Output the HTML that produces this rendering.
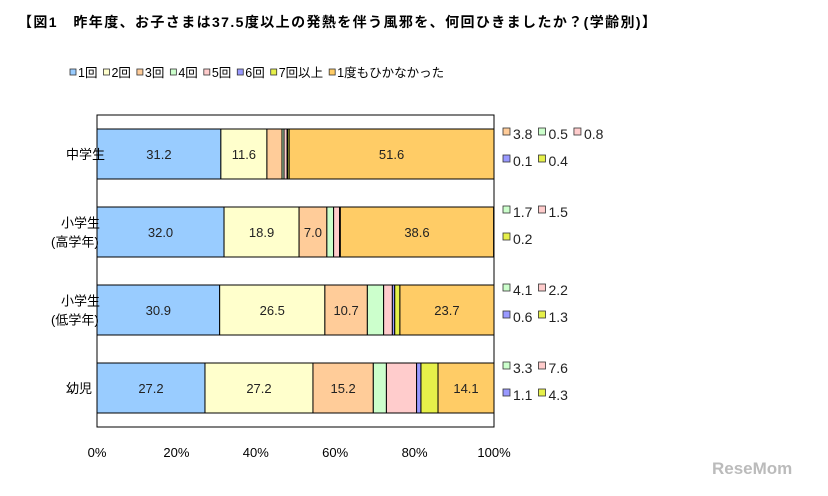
<!DOCTYPE html>
<html><head><meta charset="utf-8"><style>
body{margin:0;background:#fff;width:828px;height:491px;overflow:hidden;font-family:"Liberation Sans","Noto Sans CJK JP",sans-serif;}
svg text{font-family:"Liberation Sans","Noto Sans CJK JP",sans-serif;}
</style></head><body>
<svg id="chart" width="828" height="491">
<text x="18" y="27" font-size="14" font-weight="bold" fill="#000" textLength="638" lengthAdjust="spacing">【図1　昨年度、お子さまは37.5度以上の発熱を伴う風邪を、何回ひきましたか？(学齢別)】</text>
<g id="legend"></g>
<rect x="97" y="115" width="397" height="312" fill="#fff" stroke="#000" stroke-width="1"/>
<g id="bars"></g>
<g id="axis"></g>
<g id="side"></g>
<text x="712" y="474" font-size="17" font-weight="bold" fill="#bbb">ReseMom</text>
</svg>
<script>
const categories=["中学生","小学生\n(高学年)","小学生\n(低学年)","幼児"];
const seriesNames=["1回","2回","3回","4回","5回","6回","7回以上","1度もひかなかった"];
const s1=[31.2,32.0,30.9,27.2];
const s2=[11.6,18.9,26.5,27.2];
const s3=[3.8,7.0,10.7,15.2];
const s4=[0.5,1.7,4.1,3.3];
const s5=[0.8,1.5,2.2,7.6];
const s6=[0.1,0.0,0.6,1.1];
const s7=[0.4,0.2,1.3,4.3];
const s8=[51.6,38.6,23.7,14.1];
const tickLabels=["0%","20%","40%","60%","80%","100%"];
const colors=["#99ccff","#ffffcc","#ffcc99","#ccffcc","#ffcccc","#9999ff","#e6f04a","#ffcc66"];
const series=[s1,s2,s3,s4,s5,s6,s7,s8];
const NS="http://www.w3.org/2000/svg";
const plotX0=97,plotX1=494,plotY0=115,step=78;
const xs=v=>plotX0+(plotX1-plotX0)*v/100;
const yc=i=>plotY0+39+i*step;
function mk(t,a,p){const e=document.createElementNS(NS,t);for(const k in a)e.setAttribute(k,a[k]);p.appendChild(e);return e;}
const bars=document.getElementById('bars'),side=document.getElementById('side'),axis=document.getElementById('axis'),leg=document.getElementById('legend');
let lx=70;
seriesNames.forEach((n,j)=>{
 const r=mk('rect',{x:lx,y:69,width:6,height:6,fill:colors[j],stroke:'#333','stroke-width':0.8},leg);
 
 
 const t=mk('text',{x:lx+8,y:77,'font-size':12.5},leg);t.textContent=n;
 
 
 lx+=8+t.getComputedTextLength()+6;
});
const sideIdx=[[[2,3,4],[5,6]],[[3,4],[6]],[[3,4],[5,6]],[[3,4],[5,6]]];
categories.forEach((c,i)=>{
 let acc=0;const y=yc(i)-25;
 series.forEach((s,j)=>{
  const v=s[i];const xa=xs(acc),xb=xs(acc+v);acc+=v;
  if(v<=0)return;
  const r=mk('rect',{x:xa,y:y,width:xb-xa,height:50,fill:colors[j],stroke:'#000','stroke-width':1},bars);
  
  
  if(v>=5&&(j<=2||j==7)){const t=mk('text',{x:(xa+xb)/2,y:yc(i)+5,'font-size':13,'text-anchor':'middle',fill:'#222'},bars);t.textContent=v.toFixed(1);
   
   }
 });
 const lines=c.split('\n');
 lines.forEach((l,k)=>{
  const xx=lines.length>1?(k==0?61:51):66;
  const t=mk('text',{x:xx,y:yc(i)+5+(k-(lines.length-1)/2)*19,'font-size':13},side);t.textContent=l;
  
  });
 sideIdx[i].forEach((row,r)=>{
  let sx=503;const sy=yc(i)-15+r*27;
  row.forEach(j=>{
   const q=mk('rect',{x:sx,y:sy-11,width:7,height:7,fill:colors[j],stroke:'#333','stroke-width':0.8},side);
   
   
   const t=mk('text',{x:sx+10,y:sy,'font-size':14,fill:'#222'},side);t.textContent=series[j][i].toFixed(1);
   
   
   sx+=10+t.getComputedTextLength()+6;
  });
 });
});
tickLabels.forEach((l,k)=>{const t=mk('text',{x:xs(k*20),y:457,'font-size':13,'text-anchor':'middle'},axis);t.textContent=l;
 
 });
</script>
</body></html>
